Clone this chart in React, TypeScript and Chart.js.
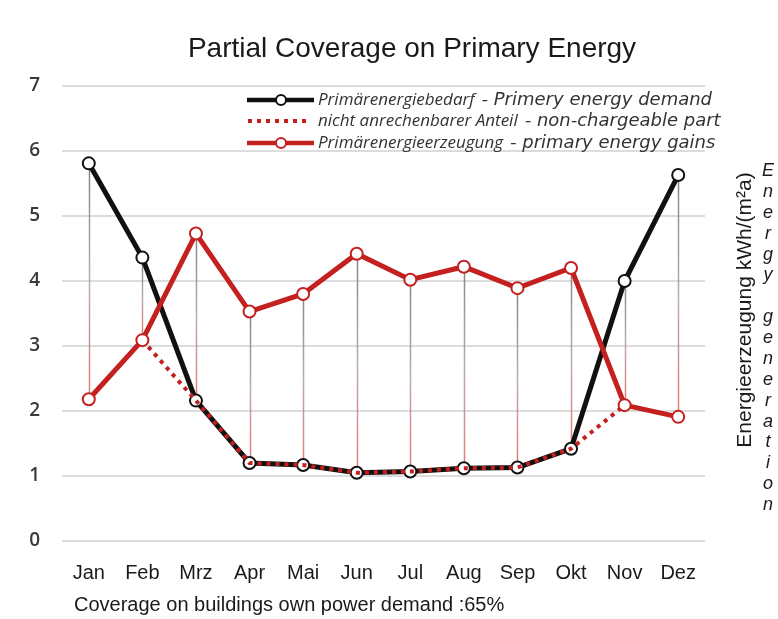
import React, { useEffect, useRef } from "react";
import { Chart, registerables } from "chart.js";

Chart.register(...registerables);

const months = ["Jan", "Feb", "Mrz", "Apr", "Mai", "Jun", "Jul", "Aug", "Sep", "Okt", "Nov", "Dez"];
const demand = [5.81, 4.36, 2.16, 1.2, 1.17, 1.05, 1.07, 1.12, 1.13, 1.42, 4.0, 5.63];
const gains = [2.18, 3.09, 4.73, 3.53, 3.8, 4.42, 4.02, 4.22, 3.89, 4.2, 2.09, 1.91];
const nonChargeable = [null, 3.09, 2.16, 1.2, 1.17, 1.05, 1.07, 1.12, 1.13, 1.42, 2.09, null];
const yTicks = [0, 1, 2, 3, 4, 5, 6, 7];

const legendGerman = ["Primärenergiebedarf", "nicht anrechenbarer Anteil", "Primärenergieerzeugung"];
const legendEnglish = ["- Primery energy demand", "- non-chargeable part", "- primary energy gains"];
const titleText = "Partial Coverage on Primary Energy";
const axisTitleDe = "Energieerzeugung kWh/(m²a)";
const axisTitleEn = "Energy generation";
const footnote = "Coverage on buildings own power demand :65%";

const BLACK = "#111111";
const RED = "#c4201f";

const decorPlugin = {
  id: "decor",
  beforeDatasetsDraw(chart: any) {
    const ctx = chart.ctx;
    const xs = chart.scales.x;
    const ys = chart.scales.y;
    ctx.save();
    for (let i = 0; i < months.length; i++) {
      const x = xs.getPixelForValue(i);
      const top = ys.getPixelForValue(Math.max(demand[i], gains[i]));
      const bot = ys.getPixelForValue(Math.min(demand[i], gains[i]));
      const g = ctx.createLinearGradient(0, top, 0, bot);
      g.addColorStop(0, "rgba(120,120,120,0.9)");
      g.addColorStop(0.5, "rgba(170,150,150,0.8)");
      g.addColorStop(1, "rgba(220,90,90,0.8)");
      ctx.strokeStyle = g;
      ctx.lineWidth = 1.5;
      ctx.beginPath();
      ctx.moveTo(Math.round(x) + 0.5, top);
      ctx.lineTo(Math.round(x) + 0.5, bot);
      ctx.stroke();
    }
    ctx.restore();
  },
  afterDraw(chart: any) {
    const ctx = chart.ctx;
    ctx.save();
    // title
    ctx.fillStyle = "#1a1a1a";
    ctx.font = "28px 'Liberation Sans', Arial, sans-serif";
    ctx.textAlign = "center";
    ctx.textBaseline = "alphabetic";
    ctx.fillText(titleText, 412, 57);

    // legend
    const rows = [100, 121, 143];
    const colors = [BLACK, RED, RED];
    for (let r = 0; r < 3; r++) {
      const y = rows[r];
      ctx.save();
      ctx.strokeStyle = colors[r];
      if (r === 1) {
        ctx.lineWidth = 4;
        ctx.setLineDash([4, 5]);
        ctx.beginPath();
        ctx.moveTo(248, y);
        ctx.lineTo(308, y);
        ctx.stroke();
      } else {
        ctx.lineWidth = 4.5;
        ctx.beginPath();
        ctx.moveTo(247, y);
        ctx.lineTo(314, y);
        ctx.stroke();
        ctx.lineWidth = 2;
        ctx.fillStyle = "#ffffff";
        ctx.beginPath();
        ctx.arc(281, y, 5, 0, Math.PI * 2);
        ctx.fill();
        ctx.stroke();
      }
      ctx.restore();
      ctx.fillStyle = "#333333";
      ctx.textAlign = "left";
      ctx.textBaseline = "middle";
      ctx.font = "italic 17px 'Open Sans', sans-serif";
      ctx.fillText(legendGerman[r], 318, y);
      const w = ctx.measureText(legendGerman[r]).width;
      ctx.font = "oblique 18px 'DejaVu Sans', sans-serif";
      ctx.fillText(legendEnglish[r], 318 + w + 7, y);
    }

    // right axis titles
    ctx.save();
    ctx.translate(745, 310);
    ctx.rotate(-Math.PI / 2);
    ctx.fillStyle = "#1a1a1a";
    ctx.font = "21px 'Liberation Sans', Arial, sans-serif";
    ctx.textAlign = "center";
    ctx.textBaseline = "middle";
    ctx.fillText(axisTitleDe, 0, 0);
    ctx.restore();

    ctx.fillStyle = "#1a1a1a";
    ctx.font = "italic 18px 'Liberation Sans', Arial, sans-serif";
    ctx.textAlign = "center";
    ctx.textBaseline = "middle";
    const letters = axisTitleEn.split("");
    const startY = 171;
    const step = (505 - 171) / (letters.length - 1);
    letters.forEach((ch, i) => {
      if (ch !== " ") ctx.fillText(ch, 768, startY + i * step);
    });

    // footnote
    ctx.font = "20px 'Liberation Sans Narrow', 'Liberation Sans', sans-serif";
    ctx.textAlign = "left";
    ctx.textBaseline = "middle";
    ctx.fillStyle = "#1a1a1a";
    ctx.fillText(footnote, 74, 605);
    ctx.restore();
  },
};

export default function App() {
  const ref = useRef<HTMLCanvasElement | null>(null);
  useEffect(() => {
    if (!ref.current) return;
    const chart = new Chart(ref.current, {
      type: "line",
      data: {
        labels: months,
        datasets: [
          {
            label: legendGerman[2],
            data: gains,
            borderColor: RED,
            backgroundColor: "#ffffff",
            borderWidth: 5,
            pointRadius: 6,
            pointBorderWidth: 2,
            pointBackgroundColor: "#ffffff",
            pointBorderColor: RED,
            tension: 0,
            order: 0,
          },
          {
            label: legendGerman[1],
            data: nonChargeable,
            borderColor: RED,
            borderWidth: 4,
            borderDash: [4, 5],
            pointRadius: 0,
            tension: 0,
            spanGaps: false,
            order: 1,
          },
          {
            label: legendGerman[0],
            data: demand,
            borderColor: BLACK,
            backgroundColor: "#ffffff",
            borderWidth: 5,
            pointRadius: 6,
            pointBorderWidth: 2,
            pointBackgroundColor: "#ffffff",
            pointBorderColor: BLACK,
            tension: 0,
            order: 2,
          },
        ],
      },
      options: {
        responsive: false,
        animation: false,
        layout: { padding: { top: 86, right: 73, left: 0, bottom: 0 } },
        plugins: {
          legend: { display: false },
          title: { display: false },
          tooltip: { enabled: false },
        },
        scales: {
          x: {
            offset: true,
            grid: { display: false, drawTicks: false },
            border: { display: false },
            ticks: {
              color: "#1a1a1a",
              padding: 20,
              font: { family: "'Liberation Sans Narrow', 'Liberation Sans', sans-serif", size: 20 },
            },
            afterFit: (s: any) => {
              s.height = 78;
            },
          },
          y: {
            min: 0,
            max: 7,
            afterBuildTicks: (s: any) => {
              s.ticks = yTicks.map((v) => ({ value: v }));
            },
            grid: { color: "#dcdcdc", lineWidth: 2, drawTicks: false },
            border: { display: false },
            ticks: {
              color: "#3a3a3a",
              padding: 22,
              font: { family: "'Open Sans', sans-serif", size: 19, weight: "600" },
            },
            afterFit: (s: any) => {
              s.width = 62;
            },
          },
        },
      },
      plugins: [decorPlugin],
    });
    return () => chart.destroy();
  }, []);
  return (
    <div style={{ position: "absolute", left: 0, top: 0, width: 778, height: 619, background: "#fff" }}>
      <canvas ref={ref} width={778} height={619} style={{ display: "block", width: 778, height: 619 }} />
    </div>
  );
}
